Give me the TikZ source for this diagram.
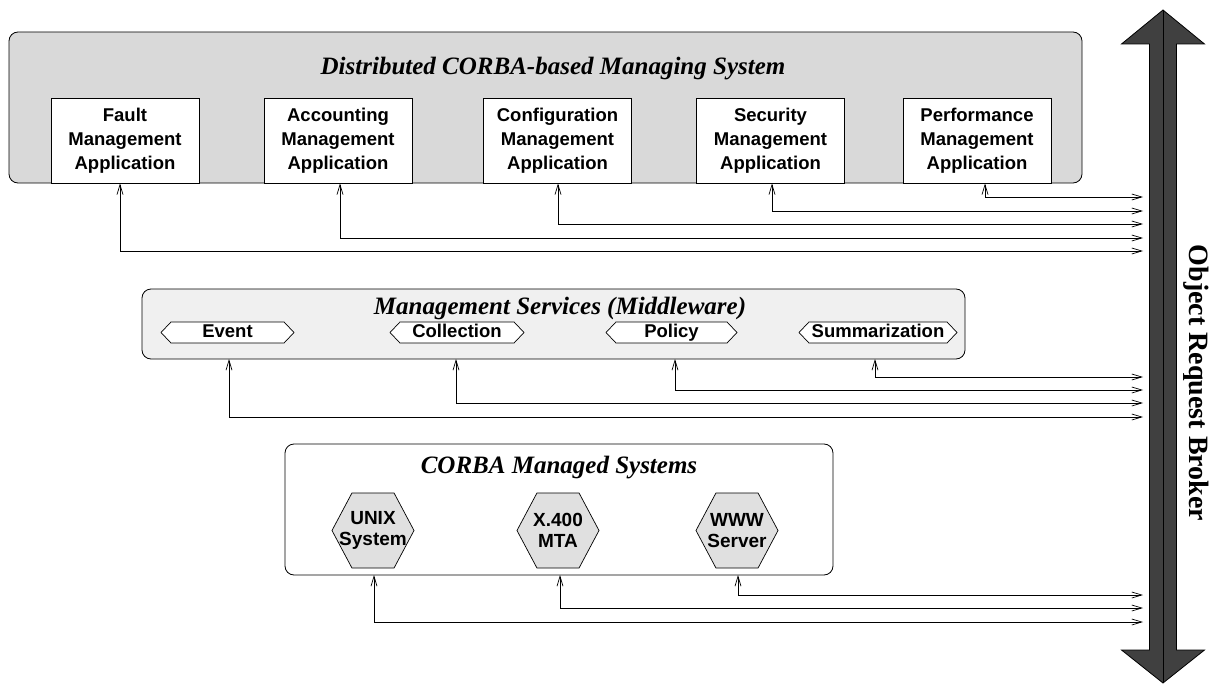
\documentclass[tikz,border=0pt]{standalone}
\usepackage{fontspec}
\setmainfont{Liberation Serif}
\setsansfont{Liberation Sans}
\usetikzlibrary{arrows.meta,shapes.symbols}
\begin{document}
\begin{tikzpicture}[x=1pt,y=-1pt,
  container/.style={draw, rounded corners=9pt, inner sep=0pt, outer sep=0pt, line width=0.8pt},
  ttl/.style={font=\fontsize{25}{30}\selectfont\bfseries\itshape, inner sep=0pt},
  app/.style={draw, fill=white, line width=0.8pt, minimum width=148pt, minimum height=85pt, inner sep=0pt, align=center,
    font=\sffamily\bfseries\fontsize{18.5}{24}\selectfont},
  sig/.style={shape=signal, signal to=west and east, signal pointer angle=93, draw, fill=white, line width=0.7pt,
    minimum height=21pt, inner sep=0pt, text height=13.3pt, text depth=3.9pt,
    font=\sffamily\bfseries\fontsize{18.5}{22}\selectfont},
  hexa/.style={shape=signal, signal to=west and east, signal pointer angle=124, draw, fill=black!12, line width=0.7pt,
    minimum height=75pt, minimum width=82pt, inner sep=0pt, align=center,
    font=\sffamily\bfseries\fontsize{19}{21.5}\selectfont},
  conn/.style={draw, line width=0.7pt, {Straight Barb[length=10pt,width=6pt]}-{Straight Barb[length=10pt,width=6pt]}}
]
\useasboundingbox (0,0) rectangle (1211,685);

% Object Request Broker bus
\draw[line width=0.8pt, fill=black!75] (1163,10) -- (1204.5,44) -- (1176.5,44) -- (1176.5,650) -- (1204.5,650)
  -- (1163,683) -- (1121.5,650) -- (1149.5,650) -- (1149.5,44) -- (1121.5,44) -- cycle;
\draw[line width=0.8pt] (1163,10) -- (1163,683);
\node[rotate=-90, font=\fontsize{28}{32}\selectfont\bfseries, inner sep=0pt] (orb) at (1196,383) {Object Request Broker};

% top container
\node[container, fill=black!15, minimum width=1073pt, minimum height=151pt] (top) at (545.5,107.5) {};
\node[ttl] (t1) at (553,69) {Distributed CORBA-based Managing System};
\node[app] (fault) at (125,140.5) {Fault\\Management\\Application};
\node[app] (acc) at (338,140.5) {Accounting\\Management\\Application};
\node[app] (conf) at (557.5,140.5) {Configuration\\Management\\Application};
\node[app] (sec) at (770.5,140.5) {Security\\Management\\Application};
\node[app] (perf) at (977,140.5) {Performance\\Management\\Application};

% middle container
\node[container, fill=black!6, minimum width=823pt, minimum height=70pt] (mid) at (553.5,324) {};
\node[ttl] (t2) at (560,308.5) {Management Services (Middleware)};
\node[sig, minimum width=133pt] (event) at (227.5,332.5) {Event};
\node[sig, minimum width=134pt] (coll) at (457,332.5) {Collection};
\node[sig, minimum width=131pt] (policy) at (671.5,332.5) {Policy};
\node[sig, minimum width=158pt] (summ) at (878,332.5) {Summarization};

% bottom container
\node[container, fill=white, minimum width=548pt, minimum height=131pt] (bot) at (559,509.5) {};
\node[ttl] (t3) at (559,468) {CORBA Managed Systems};
\node[hexa] (unix) at (373,530.5) {\makebox[0pt]{UNIX}\\\makebox[0pt]{System}};
\node[hexa] (x400) at (558,530.5) {\makebox[0pt]{X.400}\\\makebox[0pt]{MTA}};
\node[hexa] (www) at (737,530.5) {\makebox[0pt]{WWW}\\\makebox[0pt]{Server}};

% bus attachment points
\coordinate (bPerf) at (1143,197);
\coordinate (bSec) at (1143,211);
\coordinate (bConf) at (1143,224);
\coordinate (bAcc) at (1143,238);
\coordinate (bFault) at (1143,251);
\coordinate (bSumm) at (1143,377);
\coordinate (bPol) at (1143,390);
\coordinate (bColl) at (1143,403);
\coordinate (bEv) at (1143,417);
\coordinate (bWww) at (1143,595);
\coordinate (bX) at (1143,608);
\coordinate (bUnix) at (1143,622);

% connectors
\draw[conn] ([xshift=8pt]perf.south) |- (bPerf);
\draw[conn] ([xshift=1.5pt]sec.south) |- (bSec);
\draw[conn] ([xshift=0.5pt]conf.south) |- (bConf);
\draw[conn] ([xshift=2pt]acc.south) |- (bAcc);
\draw[conn] ([xshift=-5pt]fault.south) |- (bFault);
\draw[conn] ([xshift=-3pt]summ.center |- mid.south) |- (bSumm);
\draw[conn] ([xshift=3.5pt]policy.center |- mid.south) |- (bPol);
\draw[conn] ([xshift=-1pt]coll.center |- mid.south) |- (bColl);
\draw[conn] ([xshift=1.5pt]event.center |- mid.south) |- (bEv);
\draw[conn] ([xshift=1pt]www.center |- bot.south) |- (bWww);
\draw[conn] ([xshift=2pt]x400.center |- bot.south) |- (bX);
\draw[conn] ([xshift=1pt]unix.center |- bot.south) |- (bUnix);
\end{tikzpicture}
\end{document}
